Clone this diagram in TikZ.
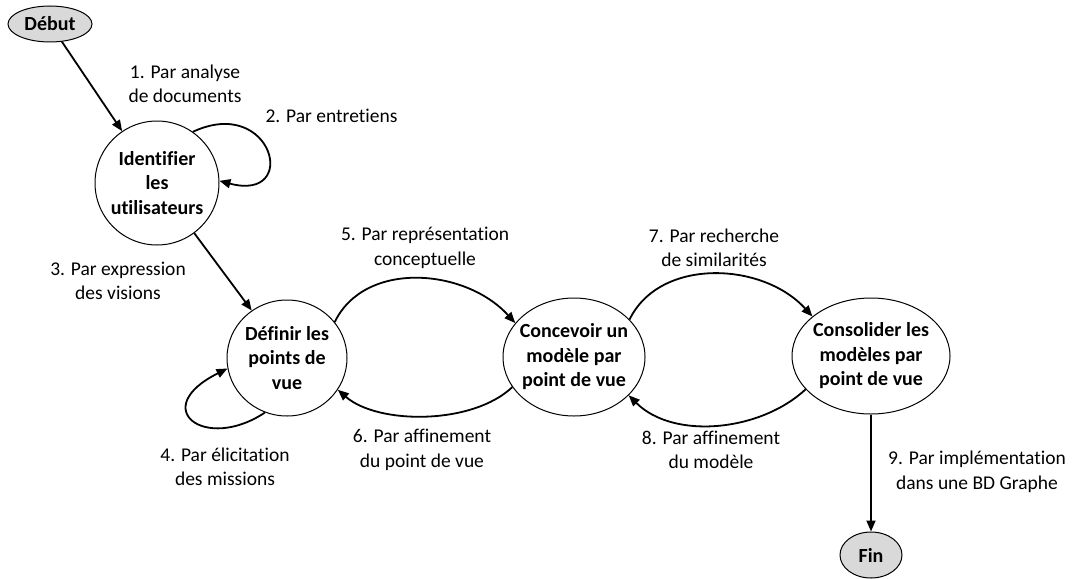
\documentclass[tikz,border=0pt]{standalone}
\usepackage{fontspec}
\setmainfont{Carlito}[Ligatures=NoCommon]
\usepackage{tikz}
\usetikzlibrary{shapes.geometric, arrows.meta}
\definecolor{termColor}{HTML}{D9D9D9}

\tikzset{
    etat/.style={draw, ellipse, line width=1pt, inner sep=-20pt, align=center,
        font=\fontsize{20}{24.5}\selectfont\bfseries},
    terminal/.style={etat, fill=termColor},
    trans/.style={-{Triangle[length=11pt,width=9pt]}, line width=1.8pt},
    lbl/.style={align=center, font=\fontsize{19.5}{24.5}\selectfont}
}

\begin{document}
\begin{tikzpicture}[x=1pt, y=1pt]
    \useasboundingbox (0,0) rectangle (1075,-578);
    % etats
    \node[terminal, minimum width=84pt, minimum height=36pt] (debut) at (50,-24) {Début};
    \node[etat, minimum width=124pt, minimum height=124pt] (ident) at (157,-183) {Identifier\\les\\utilisateurs};
    \node[etat, minimum width=120pt, minimum height=116pt] (definir) at (287,-358) {Définir les\\points de\\vue};
    \node[etat, minimum width=142pt, minimum height=118pt] (concevoir) at (574,-357) {Concevoir un\\modèle par\\point de vue};
    \node[etat, minimum width=158pt, minimum height=116pt] (consolider) at (871,-356) {Consolider les\\modèles par\\point de vue};
    \node[terminal, minimum width=62pt, minimum height=46pt] (fin) at (871,-555) {Fin};
    % transitions
    \draw[trans] (debut) -- (ident);
    \draw[trans] (ident.55) .. controls +(25:88) and +(-15:84) .. (ident.2);
    \draw[trans] (ident) -- (definir);
    \draw[trans] (definir.-112) .. controls +(-60,-40) and +(-80,-40) .. (definir.190);
    \draw[trans] (definir.37) .. controls +(30,62) and +(-50,55) .. (concevoir.150);
    \draw[trans] (concevoir.206) .. controls +(-40,-38) and +(40,-35) .. (definir.-32);
    \draw[trans] (concevoir.34) .. controls +(30,62) and +(-50,55) .. (consolider.146);
    \draw[trans] (consolider.207) .. controls +(-45,-42) and +(45,-45) .. (concevoir.-35);
    \draw[trans] (consolider) -- (fin);
    % etiquettes
    \node[lbl] (l1) at (185,-84) {1. Par analyse\\de documents};
    \node[lbl, anchor=west] (l2) at (262,-116) {2. Par entretiens};
    \node[lbl] (l3) at (118,-281) {3. Par expression\\des visions};
    \node[lbl] (l4) at (225,-467) {4. Par élicitation\\des missions};
    \node[lbl] (l5) at (425,-248) {5. Par représentation\\conceptuelle};
    \node[lbl] (l6) at (422,-450) {6. Par affinement\\du point de vue};
    \node[lbl] (l7) at (714,-248) {7. Par recherche\\de similarités};
    \node[lbl] (l8) at (711,-450) {8. Par affinement\\du modèle};
    \node[lbl] (l9) at (977,-472) {9. Par implémentation\\dans une BD Graphe};
\end{tikzpicture}
\end{document}
